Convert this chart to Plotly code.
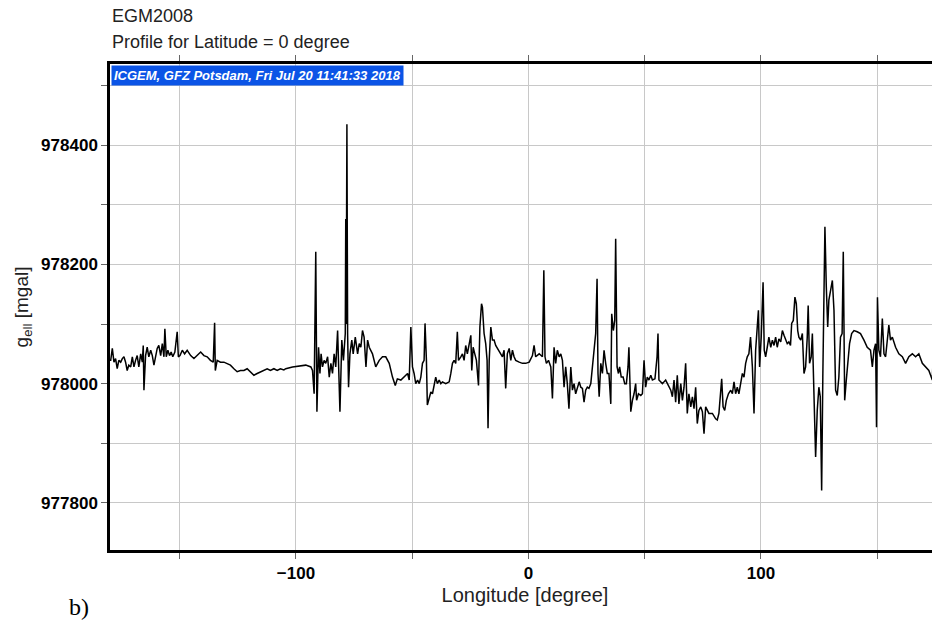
import plotly.graph_objects as go

# ---------------- text ----------------
title_line1 = "EGM2008"
title_line2 = "Profile for Latitude = 0 degree"
stamp_text = "ICGEM, GFZ Potsdam, Fri Jul 20 11:41:33 2018"
x_title = "Longitude [degree]"
y_title = "g<sub>ell</sub> [mgal]"
panel_label = "b)"

# ---------------- ticks ----------------
x_tickvals = [-100, 0, 100]
x_ticktext = ["\u2212100", "0", "100"]
x_minor_tickvals = [-150, -50, 50, 150]
y_tickvals = [977800, 978000, 978200, 978400]
y_ticktext = ["977800", "978000", "978200", "978400"]
y_minor_tickvals = [977900, 978100, 978300, 978500]

# ---------------- data ----------------
lon_pacific = [
    -180.0, -179.7, -179.0, -178.3, -177.6, -176.9, -176.2, -175.4, -174.7, -174.0,
    -173.3, -172.6, -171.9, -171.1, -170.4, -169.7, -169.0, -168.3, -167.6, -166.8,
    -166.1, -165.7, -165.4, -164.7, -164.0, -163.3, -162.5, -161.8, -161.1, -160.4,
    -159.7, -159.0, -158.2, -157.5, -156.8, -156.4, -155.8, -155.1, -154.4, -153.7,
    -153.0, -152.1, -151.1, -150.6, -149.9, -148.9, -147.9, -146.8, -145.3, -143.9,
    -142.5, -141.0, -139.6, -138.2, -136.8, -135.6, -135.0, -134.7, -133.9, -132.5,
    -131.0, -129.6, -128.2, -126.7, -125.3, -123.9, -122.4, -121.0, -119.6, -118.1,
    -116.7, -115.3, -113.8, -112.4, -111.0, -109.5, -108.1, -106.7, -105.2,
]
g_pacific = [
    978039, 978039, 978059, 978036, 978042, 978025, 978039, 978036, 978042, 978045,
    978036, 978022, 978031, 978028, 978045, 978028, 978039, 978047, 978028, 978050,
    978036, 978064, 977989, 978047, 978061, 978045, 978056, 978047, 978031, 978045,
    978059, 978064, 978047, 978067, 978045, 978092, 978045, 978056, 978047, 978053,
    978045, 978053, 978087, 978045, 978047, 978056, 978050, 978056, 978047, 978042,
    978047, 978053, 978047, 978045, 978039, 978036, 978102, 978022, 978039, 978036,
    978036, 978034, 978031, 978025, 978020, 978022, 978022, 978025, 978020, 978014,
    978017, 978020, 978022, 978025, 978022, 978025, 978022, 978025, 978023,
]

lon_america = [
    -104.4, -101.5, -98.6, -95.8, -93.6, -92.9, -92.2, -91.5, -91.0, -90.3,
    -89.7, -89.2, -88.6, -87.9, -87.2, -86.4, -85.7, -85.0, -84.3, -83.6,
    -82.9, -82.1, -81.1, -80.3, -79.6, -78.8, -78.6, -78.4, -78.1, -77.8,
    -77.4, -76.8, -76.0, -75.4, -74.5, -73.5, -72.8, -72.1, -71.4, -70.7,
    -69.9, -69.2, -68.5, -67.1, -65.7, -64.2, -62.8, -61.4, -59.9, -58.5,
    -57.3, -56.4, -54.9, -53.5, -52.0, -51.3, -50.6,
]
g_america = [
    978025, 978028, 978029, 978031, 978028, 978022, 977983, 978221, 977953, 978061,
    978017, 978050, 978028, 978039, 978034, 978045, 978011, 978034, 978017, 978050,
    978028, 978089, 977953, 978073, 978039, 978084, 978276, 978100, 978435, 978084,
    977994, 978050, 978073, 978050, 978078, 978050, 978067, 978061, 978089, 978078,
    978028, 978073, 978061, 978050, 978028, 978039, 978045, 978045, 978034, 978011,
    977997, 978008, 978006, 978011, 978017, 978006, 978095,
]

lon_atlantic = [
    -49.9, -49.2, -48.5, -47.7, -47.0, -46.3, -45.6, -44.9, -44.5, -43.9,
    -43.5, -42.7, -42.0, -41.3, -40.6, -39.9, -39.2, -38.4, -37.7, -37.0,
    -35.6, -34.1, -33.4, -32.7, -32.0, -31.3, -30.6, -30.1, -29.1, -28.4,
    -27.7, -27.0, -26.3, -25.5, -24.8, -24.4, -23.8, -23.1, -22.4, -21.5,
    -20.9, -20.2, -19.8, -19.1, -18.4, -17.8, -17.4, -16.9, -16.2, -15.5,
    -14.8, -14.1, -13.4, -12.6, -11.9, -11.2, -10.5, -9.8, -9.1, -8.3,
    -7.6, -6.9, -6.2, -5.5, -4.0, -2.6, -1.2, 0.3, 1.7, 2.4,
    3.1, 4.6, 6.0, 6.6, 7.1, 7.7, 8.6, 9.6, 10.3, 11.0,
    11.7, 12.4, 13.2, 13.9, 14.6, 15.3, 16.0, 16.7, 17.4, 18.2,
    18.9, 19.6, 20.3, 21.0,
]
g_atlantic = [
    978028, 978017, 978000, 978006, 978000, 978011, 978034, 978039, 978101, 978039,
    977964, 977978, 977986, 977983, 978000, 978011, 978000, 978006, 978000, 978003,
    978000, 978003, 978017, 978034, 978039, 978034, 978087, 978039, 978045, 978050,
    978039, 978064, 978050, 978067, 978081, 978022, 978061, 978050, 978039, 977997,
    978095, 978134, 978128, 978084, 978067, 978039, 977925, 978039, 978095, 978073,
    978073, 978064, 978059, 978053, 978050, 978045, 978056, 977992, 978050, 978059,
    978039, 978056, 978045, 978039, 978036, 978034, 978034, 978036, 978047, 978064,
    978045, 978050, 978045, 978190, 978045, 978034, 978039, 978028, 977975, 978061,
    978034, 978056, 978045, 978050, 978039, 977994, 978028, 978000, 977958, 978028,
    977989, 978000, 977983, 977994,
]

lon_africa_india = [
    21.8, 22.5, 23.2, 23.9, 24.6, 25.3, 26.0, 26.8, 27.5, 28.2,
    28.9, 29.5, 29.9, 30.4, 31.1, 31.8, 32.5, 33.2, 33.9, 34.6,
    35.4, 35.8, 36.5, 37.1, 37.5, 38.1, 38.7, 39.2, 39.9, 40.7,
    41.4, 42.1, 42.8, 43.2, 44.0, 44.7, 45.4, 46.1, 46.5, 47.3,
    48.3, 49.0, 49.7, 50.4, 51.1, 51.8, 52.6, 53.3, 54.4, 55.3,
    55.7, 56.1, 56.9, 57.6, 59.0, 59.7, 60.4, 61.2, 61.9, 62.6,
    63.3, 64.0, 64.7, 65.5, 66.2, 66.9, 67.6, 68.3, 69.0, 69.8,
    70.5, 71.2, 71.9, 72.6, 73.3, 74.1, 74.8, 75.5, 76.2, 76.9,
    77.6, 79.1, 80.5, 81.2, 81.9, 83.1, 83.7, 84.4, 85.1, 86.0,
    87.0, 87.7, 88.4, 89.1, 89.8, 90.5, 91.3, 92.0, 92.7, 93.4,
    94.1, 94.8, 95.5, 96.3, 97.0, 97.7,
]
g_africa_india = [
    978003, 977994, 977992, 977969, 977989, 977994, 977992, 978000, 978028, 978061,
    978084, 978176, 978017, 977978, 978034, 978017, 978056, 978034, 978017, 978017,
    977966, 978117, 978089, 978106, 978243, 978028, 978017, 978028, 978011, 978011,
    978000, 978000, 978028, 978061, 977953, 977972, 977983, 978000, 977972, 977983,
    977980, 977983, 978039, 977994, 978011, 978006, 978014, 978006, 978008, 978045,
    978084, 978006, 978003, 978000, 978006, 978000, 977994, 977989, 977978, 978006,
    977969, 978014, 977966, 978000, 977972, 977994, 978034, 977950, 977983, 977961,
    977978, 977958, 977994, 977933, 977955, 977961, 977953, 977916, 977961, 977955,
    977950, 977950, 977941, 977939, 977950, 978008, 977961, 977955, 977972, 977983,
    977989, 977983, 978003, 977983, 977994, 977983, 978006, 978017, 978011, 978034,
    978045, 978050, 978078, 978028, 977950, 978056,
]

lon_asia_pacific = [
    98.9, 99.4, 100.1, 100.9, 101.4, 102.0, 102.7, 103.4, 104.2, 104.9,
    105.6, 106.3, 107.0, 107.7, 108.5, 109.2, 109.9, 110.6, 111.3, 112.0,
    112.7, 113.2, 113.9, 114.6, 115.2, 115.8, 116.3, 117.1, 117.8, 118.5,
    119.2, 119.9, 120.3, 120.9, 121.6, 122.1, 122.8, 123.5, 124.2, 124.9,
    125.5, 126.1, 126.6, 127.1, 127.5, 128.1, 128.7, 129.2, 129.9, 130.7,
    131.4, 132.1, 132.8, 133.5, 134.2, 134.9, 135.4, 136.0, 136.7, 137.4,
    138.1, 139.0, 140.0, 141.4, 142.8, 144.3, 145.7, 147.1, 147.9, 148.6,
    149.3, 149.7, 150.1, 150.7, 151.4, 152.2, 152.9, 153.6, 154.3, 155.0,
    155.7, 156.5, 157.9, 159.3, 160.8, 162.2, 163.6, 165.1, 166.5, 167.9,
    169.4, 170.8, 172.2, 173.7, 174.4, 174.8, 175.8, 176.5, 177.5,
]
g_asia_pacific = [
    978123, 978028, 978078, 978170, 978056, 978045, 978061, 978078, 978061, 978073,
    978064, 978078, 978061, 978075, 978070, 978089, 978081, 978073, 978067, 978070,
    978064, 978101, 978106, 978145, 978134, 978089, 978078, 978073, 978084, 978017,
    978028, 978078, 978131, 978034, 978045, 978084, 977978, 977877, 977955, 977994,
    977978, 977821, 978011, 978123, 978263, 978162, 978095, 978140, 978156, 978173,
    978123, 977989, 977980, 978011, 978078, 978084, 978221, 977972, 978006, 978045,
    978067, 978084, 978089, 978087, 978084, 978073, 978061, 978056, 978028, 978056,
    978067, 977927, 978145, 978056, 978045, 978109, 978050, 978045, 978067, 978098,
    978073, 978078, 978061, 978050, 978045, 978034, 978045, 978050, 978045, 978050,
    978034, 978028, 978022, 978006, 978084, 977994, 978045, 978039, 978045,
]

longitude = lon_pacific + lon_america + lon_atlantic + lon_africa_india + lon_asia_pacific
g_ell = g_pacific + g_america + g_atlantic + g_africa_india + g_asia_pacific

# ---------------- figure ----------------
fig = go.Figure()
fig.add_trace(go.Scatter(
    x=longitude, y=g_ell, mode="lines",
    line=dict(color="black", width=1.5),
    hoverinfo="skip",
))

font_family = "Liberation Sans, Arial, Helvetica, sans-serif"
grid_color = "#c8c8c8"
tick_color = "#666"

# the page body adds an 8px offset, so the figure is 8px smaller than the window
fig.update_layout(
    width=932, height=612,
    margin=dict(l=102, r=0, t=56, b=70),
    plot_bgcolor="white", paper_bgcolor="white",
    showlegend=False,
    font=dict(family=font_family, color="black"),
)

fig.update_xaxes(
    range=[-180, 177],
    tickvals=x_tickvals, ticktext=x_ticktext,
    showgrid=True, gridcolor=grid_color, gridwidth=1,
    minor=dict(tickvals=x_minor_tickvals, ticks="outside", ticklen=6,
               tickcolor=tick_color, tickwidth=1, showgrid=True,
               gridcolor=grid_color, gridwidth=1),
    zeroline=False,
    showline=True, linecolor="black", linewidth=2.5, mirror="ticks",
    ticks="outside", ticklen=6, tickcolor=tick_color, tickwidth=1,
    tickfont=dict(size=17, weight="bold", color="black"),
    title=dict(text=x_title, font=dict(size=20, color="#222"), standoff=6),
    automargin=False,
)
fig.update_yaxes(
    range=[977721, 978536],
    tickvals=y_tickvals, ticktext=y_ticktext,
    showgrid=True, gridcolor=grid_color, gridwidth=1,
    minor=dict(tickvals=y_minor_tickvals, ticks="outside", ticklen=6,
               tickcolor=tick_color, tickwidth=1, showgrid=True,
               gridcolor=grid_color, gridwidth=1),
    zeroline=False,
    showline=True, linecolor="black", linewidth=2.5, mirror=False,
    ticks="outside", ticklen=6, tickcolor=tick_color, tickwidth=1,
    tickfont=dict(size=17, weight="bold", color="black"),
    title=dict(text=y_title, font=dict(size=19, color="#222"), standoff=8),
    automargin=False,
)

fig.add_annotation(
    text=title_line1, xref="paper", yref="paper", x=0, y=1.0988,
    xanchor="left", yanchor="middle", showarrow=False,
    font=dict(size=18, color="#222", family=font_family),
)
fig.add_annotation(
    text=title_line2, xref="paper", yref="paper", x=0, y=1.0453,
    xanchor="left", yanchor="middle", showarrow=False,
    font=dict(size=18, color="#222", family=font_family),
)
fig.add_annotation(
    text=stamp_text, xref="paper", yref="paper", x=0, y=1,
    xanchor="left", yanchor="top", showarrow=False,
    xshift=1, yshift=-1,
    bgcolor="#0b54e6", borderpad=2,
    font=dict(size=13, color="white", family=font_family, weight="bold", style="italic"),
)
fig.add_annotation(
    text=panel_label, xref="paper", yref="paper", x=-0.052, y=-0.117,
    xanchor="left", yanchor="middle", showarrow=False,
    font=dict(size=24, color="black", family="Liberation Serif, Times New Roman, serif"),
)

fig.write_html("out.html")
